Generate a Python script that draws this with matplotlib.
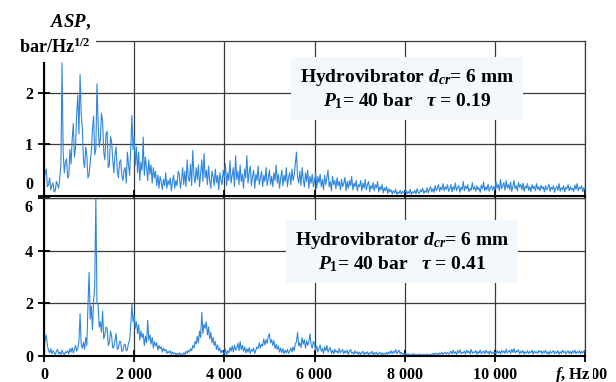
import matplotlib
matplotlib.use("Agg")
import numpy as np
import matplotlib.pyplot as plt
import matplotlib.transforms as mtransforms

FREQ_STEP = 25  # Hz between spectrum bins

# amplitude spectrum, tau = 0.19, bar/Hz^1/2 (one row = 1000 Hz)
asp_tau019 = [
    0.30, 0.45, 0.52, 0.18, 0.22, 0.35, 0.12, 0.20, 0.25, 0.08, 0.10, 0.28, 0.22, 0.15, 0.35, 0.60, 2.58, 0.85, 0.45, 0.65,
    0.72, 0.35, 0.38, 0.90, 0.62, 1.10, 1.40, 0.75, 0.95, 1.60, 1.95, 1.20, 2.35, 1.60, 1.30, 0.70, 0.55, 0.95, 0.78, 0.35,
    0.42, 0.65, 0.85, 1.30, 1.55, 0.80, 0.90, 2.17, 1.40, 0.95, 1.10, 1.60, 1.45, 0.85, 0.70, 1.20, 1.25, 0.55, 0.60, 1.15,
    1.05, 0.70, 0.45, 0.80, 0.95, 0.50, 0.35, 0.65, 0.70, 0.40, 0.30, 0.50, 0.55, 0.25, 0.85, 0.60, 0.40, 0.95, 1.56, 0.90,
    1.15, 0.60, 0.95, 0.45, 0.85, 0.30, 0.65, 0.50, 1.14, 0.40, 0.75, 0.55, 0.30, 0.70, 0.42, 0.60, 0.25, 0.55, 0.35, 0.48,
    0.20, 0.40, 0.15, 0.38, 0.28, 0.12, 0.32, 0.20, 0.45, 0.15, 0.30, 0.22, 0.35, 0.10, 0.28, 0.40, 0.15, 0.30, 0.20, 0.48,
    0.42, 0.15, 0.30, 0.55, 0.22, 0.48, 0.18, 0.70, 0.35, 0.28, 0.62, 0.20, 0.88, 0.40, 0.25, 0.55, 0.32, 0.60, 0.18, 0.45,
    0.70, 0.28, 0.82, 0.35, 0.50, 0.22, 0.58, 0.30, 0.15, 0.48, 0.38, 0.20, 0.52, 0.26, 0.40, 0.12, 0.45, 0.30, 0.22, 0.50,
    0.35, 0.62, 0.20, 0.45, 0.30, 0.68, 0.25, 0.40, 0.55, 0.18, 0.78, 0.32, 0.48, 0.22, 0.60, 0.28, 0.42, 0.15, 0.52, 0.35,
    0.78, 0.25, 0.45, 0.58, 0.20, 0.38, 0.50, 0.15, 0.42, 0.30, 0.58, 0.22, 0.35, 0.48, 0.18, 0.40, 0.28, 0.55, 0.20, 0.35,
    0.50, 0.22, 0.38, 0.18, 0.45, 0.30, 0.60, 0.25, 0.42, 0.15, 0.35, 0.50, 0.20, 0.40, 0.28, 0.55, 0.18, 0.36, 0.45, 0.22,
    0.52, 0.30, 0.40, 0.62, 0.85, 0.35, 0.25, 0.48, 0.20, 0.55, 0.32, 0.18, 0.45, 0.28, 0.50, 0.15, 0.38, 0.25, 0.42, 0.18,
    0.30, 0.45, 0.15, 0.38, 0.25, 0.42, 0.18, 0.32, 0.12, 0.40, 0.22, 0.35, 0.50, 0.18, 0.28, 0.10, 0.38, 0.22, 0.30, 0.14,
    0.35, 0.20, 0.28, 0.12, 0.32, 0.18, 0.25, 0.36, 0.10, 0.28, 0.15, 0.30, 0.20, 0.38, 0.12, 0.25, 0.18, 0.30, 0.10, 0.22,
    0.18, 0.30, 0.10, 0.25, 0.15, 0.32, 0.12, 0.22, 0.28, 0.08, 0.20, 0.14, 0.26, 0.10, 0.22, 0.16, 0.28, 0.08, 0.18, 0.12,
    0.22, 0.06, 0.16, 0.10, 0.18, 0.05, 0.14, 0.08, 0.12, 0.04, 0.10, 0.06, 0.13, 0.03, 0.08, 0.05, 0.11, 0.04, 0.09, 0.06,
    0.06, 0.12, 0.04, 0.09, 0.05, 0.13, 0.03, 0.08, 0.06, 0.11, 0.04, 0.14, 0.07, 0.05, 0.12, 0.08, 0.15, 0.05, 0.10, 0.07,
    0.16, 0.06, 0.12, 0.18, 0.08, 0.14, 0.07, 0.20, 0.10, 0.15, 0.22, 0.09, 0.17, 0.12, 0.24, 0.10, 0.18, 0.13, 0.22, 0.09,
    0.14, 0.22, 0.08, 0.18, 0.12, 0.25, 0.10, 0.16, 0.20, 0.07, 0.17, 0.12, 0.28, 0.10, 0.19, 0.14, 0.22, 0.08, 0.15, 0.11,
    0.26, 0.13, 0.18, 0.09, 0.20, 0.12, 0.16, 0.07, 0.21, 0.14, 0.27, 0.10, 0.18, 0.12, 0.23, 0.09, 0.16, 0.20, 0.11, 0.18,
    0.12, 0.28, 0.15, 0.22, 0.10, 0.32, 0.14, 0.20, 0.26, 0.11, 0.30, 0.16, 0.22, 0.12, 0.27, 0.09, 0.18, 0.30, 0.14, 0.20,
    0.10, 0.26, 0.17, 0.22, 0.12, 0.25, 0.09, 0.19, 0.15, 0.24, 0.11, 0.18, 0.08, 0.22, 0.14, 0.19, 0.10, 0.24, 0.13, 0.18,
    0.10, 0.21, 0.14, 0.18, 0.08, 0.20, 0.12, 0.16, 0.23, 0.09, 0.17, 0.13, 0.20, 0.07, 0.15, 0.19, 0.11, 0.24, 0.09, 0.16,
    0.12, 0.20, 0.08, 0.17, 0.14, 0.22, 0.10, 0.18, 0.12, 0.15, 0.09, 0.21, 0.13, 0.24, 0.10, 0.17, 0.14, 0.20, 0.08, 0.16,
    0.12,
]

# amplitude spectrum, tau = 0.41, bar/Hz^1/2
asp_tau041 = [
    0.35, 0.62, 0.80, 0.40, 0.22, 0.12, 0.28, 0.08, 0.20, 0.12, 0.05, 0.18, 0.25, 0.08, 0.15, 0.06, 0.22, 0.10, 0.04, 0.16,
    0.12, 0.20, 0.08, 0.28, 0.15, 0.32, 0.12, 0.25, 0.40, 0.18, 0.30, 0.55, 1.60, 0.45, 0.30, 0.52, 0.25, 0.70, 0.40, 1.90,
    3.18, 1.40, 1.90, 1.00, 2.05, 2.68, 6.00, 2.00, 1.95, 1.10, 1.30, 0.90, 1.70, 0.65, 0.80, 1.10, 1.05, 0.40, 0.50, 0.95,
    0.75, 0.30, 0.35, 0.60, 0.85, 0.25, 0.30, 0.55, 0.55, 0.18, 0.20, 0.40, 0.45, 0.20, 0.25, 0.50, 0.60, 1.20, 1.97, 1.30,
    1.55, 1.05, 1.30, 0.85, 1.20, 0.60, 0.95, 0.70, 0.85, 0.40, 0.75, 0.50, 1.35, 0.60, 0.80, 0.45, 0.70, 0.30, 0.55, 0.38,
    0.50, 0.22, 0.40, 0.28, 0.35, 0.15, 0.30, 0.20, 0.25, 0.10, 0.18, 0.12, 0.20, 0.06, 0.15, 0.08, 0.12, 0.05, 0.10, 0.06,
    0.12, 0.04, 0.08, 0.05, 0.12, 0.06, 0.18, 0.10, 0.22, 0.15, 0.28, 0.20, 0.40, 0.30, 0.55, 0.45, 0.75, 0.50, 0.95, 0.70,
    1.66, 0.85, 1.20, 1.05, 1.30, 0.80, 1.10, 0.65, 0.90, 0.50, 0.70, 0.40, 0.55, 0.25, 0.42, 0.20, 0.30, 0.12, 0.22, 0.10,
    0.10, 0.25, 0.05, 0.20, 0.12, 0.32, 0.18, 0.38, 0.15, 0.42, 0.22, 0.30, 0.48, 0.20, 0.55, 0.25, 0.40, 0.18, 0.35, 0.12,
    0.28, 0.15, 0.32, 0.10, 0.25, 0.18, 0.30, 0.10, 0.22, 0.35, 0.28, 0.50, 0.30, 0.45, 0.38, 0.65, 0.42, 0.62, 0.48, 0.75,
    0.84, 0.50, 0.62, 0.40, 0.58, 0.28, 0.45, 0.25, 0.38, 0.15, 0.30, 0.12, 0.28, 0.08, 0.22, 0.12, 0.25, 0.10, 0.18, 0.30,
    0.15, 0.35, 0.20, 0.45, 0.55, 0.90, 0.38, 0.50, 0.32, 0.70, 0.45, 0.62, 0.30, 0.58, 0.40, 0.55, 0.84, 0.42, 0.30, 0.55,
    0.45, 0.22, 0.38, 0.15, 0.30, 0.42, 0.18, 0.28, 0.10, 0.35, 0.20, 0.40, 0.14, 0.25, 0.32, 0.10, 0.22, 0.08, 0.26, 0.14,
    0.20, 0.10, 0.28, 0.12, 0.18, 0.25, 0.08, 0.20, 0.12, 0.22, 0.06, 0.18, 0.25, 0.10, 0.15, 0.07, 0.20, 0.10, 0.16, 0.06,
    0.15, 0.06, 0.12, 0.18, 0.05, 0.14, 0.08, 0.16, 0.04, 0.12, 0.09, 0.18, 0.05, 0.13, 0.07, 0.15, 0.04, 0.10, 0.14, 0.06,
    0.12, 0.05, 0.10, 0.07, 0.14, 0.06, 0.16, 0.10, 0.20, 0.08, 0.18, 0.12, 0.24, 0.09, 0.16, 0.22, 0.08, 0.15, 0.05, 0.10,
    0.06, 0.10, 0.03, 0.08, 0.05, 0.02, 0.07, 0.04, 0.09, 0.03, 0.06, 0.02, 0.05, 0.08, 0.03, 0.06, 0.02, 0.07, 0.04, 0.03,
    0.08, 0.05, 0.03, 0.07, 0.04, 0.09, 0.05, 0.11, 0.06, 0.10, 0.04, 0.12, 0.07, 0.14, 0.06, 0.11, 0.15, 0.08, 0.13, 0.07,
    0.12, 0.18, 0.08, 0.22, 0.10, 0.16, 0.06, 0.20, 0.12, 0.24, 0.09, 0.15, 0.11, 0.19, 0.07, 0.22, 0.13, 0.18, 0.08, 0.25,
    0.10, 0.16, 0.12, 0.21, 0.07, 0.17, 0.11, 0.23, 0.09, 0.14, 0.19, 0.08, 0.22, 0.12, 0.17, 0.07, 0.20, 0.10, 0.15, 0.09,
    0.15, 0.08, 0.20, 0.11, 0.18, 0.07, 0.22, 0.13, 0.19, 0.10, 0.26, 0.12, 0.17, 0.22, 0.09, 0.25, 0.14, 0.28, 0.11, 0.20,
    0.15, 0.24, 0.08, 0.18, 0.12, 0.21, 0.07, 0.16, 0.11, 0.20, 0.09, 0.17, 0.13, 0.22, 0.08, 0.19, 0.12, 0.16, 0.10, 0.21,
    0.14, 0.20, 0.08, 0.18, 0.12, 0.22, 0.09, 0.16, 0.06, 0.19, 0.11, 0.15, 0.21, 0.08, 0.17, 0.12, 0.20, 0.07, 0.16, 0.10,
    0.22, 0.13, 0.18, 0.08, 0.15, 0.20, 0.10, 0.17, 0.07, 0.19, 0.12, 0.22, 0.09, 0.16, 0.13, 0.20, 0.08, 0.18, 0.11, 0.19,
    0.15,
]

x_ticks = [0, 2000, 4000, 6000, 8000, 10000, 12000]
x_tick_labels = ["0", "2 000", "4 000", "6 000", "8 000", "10 000", "12 000"]
top_y_ticks = [0, 1, 2]
bottom_y_ticks = [0, 2, 4, 6]

top_note = "Hydrovibrator $d_{cr}$= 6 mm\n$P_{\\mathit{1}}$= 40 bar   $\\tau$ = 0.19"
bottom_note = "Hydrovibrator $d_{cr}$= 6 mm\n$P_{\\mathit{1}}$= 40 bar   $\\tau$ = 0.41"

LINE_COLOR = "#2f86de"
GRID_COLOR = "#3a3a3a"
NOTE_FACE = "#f3f8fc"

plt.rcParams["font.family"] = "Liberation Serif"
plt.rcParams["font.weight"] = "bold"
plt.rcParams["mathtext.fontset"] = "custom"
plt.rcParams["mathtext.rm"] = "Liberation Serif:bold"
plt.rcParams["mathtext.bf"] = "Liberation Serif:bold"
plt.rcParams["mathtext.it"] = "Liberation Serif:italic:bold"
plt.rcParams["mathtext.bfit"] = "Liberation Serif:italic:bold"


def style_panel(ax, ymax, yticks):
    ax.set_xlim(0, 12000)
    ax.set_ylim(0, ymax)
    ax.set_xticks(x_ticks)
    ax.set_yticks(yticks)
    ax.set_yticklabels([str(v) for v in yticks])
    ax.grid(True, color=GRID_COLOR, lw=0.9)
    ax.set_axisbelow(True)
    for side in ("left", "bottom"):
        ax.spines[side].set_linewidth(1.5)
        ax.spines[side].set_color("black")
    for side in ("top", "right"):
        ax.spines[side].set_linewidth(0.9)
        ax.spines[side].set_color(GRID_COLOR)
    ax.tick_params(direction="inout", length=8, width=1.3, labelsize=11.5, pad=4)


def shift_ylabel(fig, ax, idx, dy_pts):
    lab = ax.yaxis.get_majorticklabels()[idx]
    lab.set_transform(lab.get_transform() +
                      mtransforms.ScaledTranslation(0, dy_pts / 72, fig.dpi_scale_trans))


def main():
    fig = plt.figure(figsize=(6.16, 3.82), dpi=100)
    ax_top = fig.add_axes([44 / 616, 1 - 196 / 382, 541 / 616, 155 / 382])
    ax_bot = fig.add_axes([44 / 616, 1 - 356 / 382, 541 / 616, 158 / 382])

    freq_top = np.arange(len(asp_tau019)) * FREQ_STEP
    freq_bot = np.arange(len(asp_tau041)) * FREQ_STEP

    ax_top.plot(freq_top, asp_tau019, color=LINE_COLOR, lw=0.8)
    ax_bot.plot(freq_bot, asp_tau041, color=LINE_COLOR, lw=0.8)

    style_panel(ax_top, 3, top_y_ticks)
    style_panel(ax_bot, 6, bottom_y_ticks)
    ax_top.tick_params(labelbottom=False)
    ax_bot.set_xticklabels(x_tick_labels)

    # edge labels moved inward so they don't collide
    shift_ylabel(fig, ax_top, 0, 9.5)
    shift_ylabel(fig, ax_bot, 3, -6)

    box = dict(boxstyle="square,pad=0.45", fc=NOTE_FACE, ec="none")
    ax_top.text(8050, 2.07, top_note, ha="center", va="center", fontsize=14,
                bbox=box, zorder=5)
    ax_bot.text(7950, 3.94, bottom_note, ha="center", va="center", fontsize=14,
                bbox=box, zorder=5)

    # axis titles
    fig.text(91 / 616, 1 - 22 / 382, "$ASP$,", ha="right", va="center", fontsize=13.5)
    fig.text(91 / 616, 1 - 47 / 382, "bar/Hz$^{1/2}$", ha="right", va="center",
             fontsize=13, bbox=dict(boxstyle="square,pad=0.3", fc="white", ec="none"))
    fig.text(573 / 616, 1 - 375 / 382, "$f$, Hz", ha="center", va="center",
             fontsize=12, bbox=dict(boxstyle="square,pad=0.1", fc="white", ec="none"))

    fig.savefig("out.png", dpi=100)


if __name__ == "__main__":
    main()
